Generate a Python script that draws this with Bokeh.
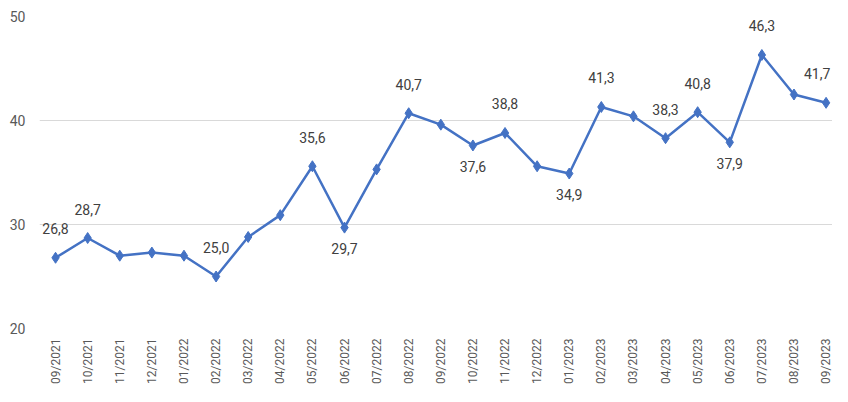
from math import pi
from bokeh.plotting import figure
from bokeh.models import Range1d, FixedTicker, ColumnDataSource
from bokeh.core.properties import value
from bokeh.embed import file_html
from bokeh.resources import INLINE

months = ["09/2021", "10/2021", "11/2021", "12/2021", "01/2022", "02/2022", "03/2022",
          "04/2022", "05/2022", "06/2022", "07/2022", "08/2022", "09/2022", "10/2022",
          "11/2022", "12/2022", "01/2023", "02/2023", "03/2023", "04/2023", "05/2023",
          "06/2023", "07/2023", "08/2023", "09/2023"]
values = [26.8, 28.7, 27.0, 27.3, 27.0, 25.0, 28.8, 30.9, 35.6, 29.7, 35.3, 40.7, 39.6,
          37.6, 38.8, 35.6, 34.9, 41.3, 40.4, 38.3, 40.8, 37.9, 46.3, 42.5, 41.7]
label_pos = ["above", "above", "", "", "", "above", "", "", "above", "below", "", "above", "",
             "below", "above", "", "below", "above", "", "above", "above", "below", "above", "", "above"]
y_ticks = [20, 30, 40, 50]

FONT = "Roboto"
xs = list(range(len(months)))

p = figure(width=832, height=386, output_backend="svg", toolbar_location=None,
           x_range=Range1d(-0.5, 24.2), y_range=Range1d(20, 50),
           min_border_left=39, min_border_right=0, min_border_top=16, min_border_bottom=58)
p.outline_line_color = None
p.background_fill_color = "white"
p.border_fill_color = "white"

p.xgrid.grid_line_color = None
p.ygrid.grid_line_color = "#d9d9d9"
p.ygrid.grid_line_width = 1.2
p.ygrid.ticker = FixedTicker(ticks=y_ticks)

p.yaxis.ticker = FixedTicker(ticks=y_ticks)
p.yaxis.axis_line_color = None
p.yaxis.major_tick_line_color = None
p.yaxis.minor_tick_line_color = None
p.yaxis.major_label_text_font = FONT
p.yaxis.major_label_text_font_size = "14px"
p.yaxis.major_label_text_color = "#595959"
p.yaxis.major_label_standoff = 8

p.xaxis.ticker = FixedTicker(ticks=xs)
p.xaxis.major_label_overrides = {i: m for i, m in enumerate(months)}
p.xaxis.major_label_orientation = pi / 2
p.xaxis.axis_line_color = None
p.xaxis.major_tick_line_color = None
p.xaxis.minor_tick_line_color = None
p.xaxis.major_label_text_font = FONT
p.xaxis.major_label_text_font_size = "12px"
p.xaxis.major_label_text_color = "#595959"
p.xaxis.major_label_standoff = 4

src = ColumnDataSource(dict(x=xs, y=values))
p.line("x", "y", source=src, line_color="#4472C4", line_width=2.5)
p.scatter("x", "y", source=src, marker="diamond", size=11,
          fill_color="#4472C4", line_color="#4472C4")

def fmt(v):
    return f"{v:.1f}".replace(".", ",")

last = len(xs) - 1

def label_source(kind):
    idx = [i for i, l in enumerate(label_pos) if l == kind]
    return ColumnDataSource(dict(
        x=[xs[i] for i in idx],
        y=[values[i] for i in idx],
        t=[fmt(values[i]) for i in idx],
        dx=[-9 if i == last else 0 for i in idx]))

for kind, off in (("above", -29), ("below", 21)):
    p.text("x", "y", text="t", source=label_source(kind), text_align="center",
           text_baseline="middle", x_offset="dx", y_offset=off,
           text_font=value(FONT), text_font_size="14px", text_color="#404040")

open("out.html", "w").write(file_html(p, INLINE))
